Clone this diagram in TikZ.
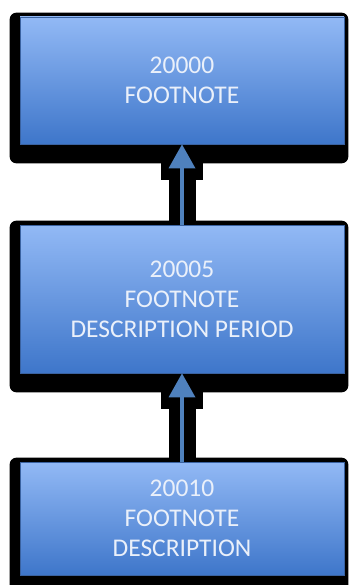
\documentclass[tikz,border=0pt]{standalone}
\usepackage{fontspec}
\setmainfont{Carlito}
\usepackage{tikz}
\usetikzlibrary{calc,positioning,arrows.meta,backgrounds}
\definecolor{boxtop}{RGB}{146,185,245}
\definecolor{boxbottom}{RGB}{62,118,202}
\definecolor{boxline}{RGB}{58,98,160}
\definecolor{arrowblue}{RGB}{79,129,189}
\definecolor{labelwhite}{RGB}{234,240,250}
\tikzset{
    stepbox/.style={rectangle, draw=boxline, line width=0.8pt,
        top color=boxtop, bottom color=boxbottom,
        minimum width=324pt, inner sep=0pt, align=center,
        text=labelwhite, font=\fontsize{25.5}{30}\selectfont},
    backing/.style={fill=black, rounded corners=7pt},
    casing/.style={draw=black, line width=27pt,
        -{Rectangle[width=42pt,length=36pt,line width=0pt,round]}},
    uparrow/.style={draw=arrowblue, line width=4pt,
        -{Triangle[width=27pt,length=24pt,line width=0pt]}}
}

\begin{document}
\begin{tikzpicture}[x=1pt,y=1pt,yscale=-1,xscale=1]
    \useasboundingbox (0,0) rectangle (350,585);

    % Boxes
    \path (182,80.5) node [stepbox, minimum height=127pt] (top) {20000\\FOOTNOTE};
    \path (182,299) node [stepbox, minimum height=148pt] (mid) {20005\\FOOTNOTE\\DESCRIPTION PERIOD};
    \path (182,518.5) node [stepbox, minimum height=113pt] (bot) {20010\\FOOTNOTE\\DESCRIPTION};

    \begin{scope}[on background layer]
    % Black shadows
    \foreach \b in {top,mid,bot}
        \fill [backing] ($(\b.north west)+(-10,-4)$) rectangle ($(\b.south east)+(4,19)$);

    % Black casing of the connectors
    \draw [casing] (mid.north) -- (top.south);
    \draw [casing] (bot.north) -- (mid.south);
    \end{scope}

    % Connectors
    \draw [uparrow] (mid.north) -- (top.south);
    \draw [uparrow] (bot.north) -- (mid.south);
\end{tikzpicture}
\end{document}
